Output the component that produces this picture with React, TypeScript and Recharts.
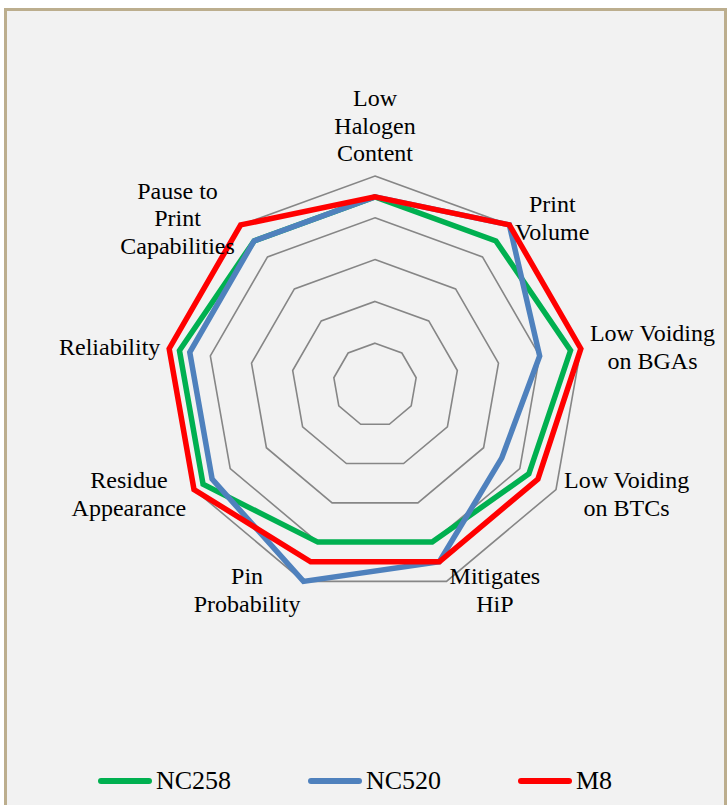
import React from "react";
import {
  RadarChart,
  Radar,
  PolarGrid,
  PolarAngleAxis,
  PolarRadiusAxis,
  Legend,
} from "recharts";

const categorias = [
  "Low\nHalogen\nContent",
  "Print\nVolume",
  "Low Voiding\non BGAs",
  "Low Voiding\non BTCs",
  "Mitigates\nHiP",
  "Pin\nProbability",
  "Residue\nAppearance",
  "Reliability",
  "Pause to\nPrint\nCapabilities",
];

const nc258 = [9, 9, 9.5, 8.5, 8, 8, 9.5, 9.5, 9];
const nc520 = [9, 10, 8, 7, 9, 10, 9, 9, 9];
const m8 = [9, 10, 10, 9, 9, 9, 10, 10, 10];

const SERIES = [
  { key: "nc258", name: "NC258", color: "#00b050" },
  { key: "nc520", name: "NC520", color: "#4f81bd" },
  { key: "m8", name: "M8", color: "#ff0000" },
];

const dados = categorias.map((c, i) => ({
  subject: c,
  nc258: nc258[i],
  nc520: nc520[i],
  m8: m8[i],
}));

const FONTE = '"Liberation Serif", "Times New Roman", serif';
const TAM_LABEL = 24;
const ALTURA_LINHA = 27.5;

let ctx: CanvasRenderingContext2D | null = null;
function medir(texto: string) {
  if (!ctx) ctx = document.createElement("canvas").getContext("2d");
  if (!ctx) return texto.length * 11;
  ctx.font = `${TAM_LABEL}px "Liberation Serif"`;
  return ctx.measureText(texto).width;
}

function RotuloEixo(props: any) {
  const { x, y, cx, cy, payload } = props;
  const linhas: string[] = String(payload.value).split("\n");
  const dx = x - cx;
  const dy = y - cy;
  const len = Math.sqrt(dx * dx + dy * dy) || 1;
  const ux = dx / len;
  const larg = Math.max(...linhas.map(medir));
  const alt = linhas.length * ALTURA_LINHA;

  let centroX = x;
  let topo = y - alt / 2;
  if (Math.abs(ux) < 0.1) {
    topo = dy < 0 ? y - alt : y;
  } else if (ux > 0) {
    centroX = x + larg / 2;
  } else {
    centroX = x - larg / 2;
  }

  return (
    <g>
      {linhas.map((l, i) => (
        <text
          key={i}
          x={centroX}
          y={topo + ALTURA_LINHA * (i + 0.5)}
          textAnchor="middle"
          dominantBaseline="central"
          fontFamily={FONTE}
          fontSize={TAM_LABEL}
          fill="#000"
        >
          {l}
        </text>
      ))}
    </g>
  );
}

function Legenda() {
  return (
    <div
      style={{
        display: "flex",
        paddingLeft: 98,
        fontFamily: FONTE,
        fontSize: 26,
        color: "#000",
      }}
    >
      {SERIES.map((s) => (
        <div
          key={s.key}
          style={{ width: 226, display: "flex", alignItems: "center" }}
        >
          <div
            style={{
              width: 54,
              height: 6,
              borderRadius: 3,
              background: s.color,
              marginRight: 4,
            }}
          />
          <span>{s.name}</span>
        </div>
      ))}
    </div>
  );
}

export default function App() {
  return (
    <div
      style={{
        position: "absolute",
        left: 0,
        top: 0,
        width: 728,
        height: 805,
        overflow: "hidden",
        background: "#fff",
      }}
    >
      <div
        style={{
          position: "absolute",
          left: 4,
          top: 8,
          width: 717,
          height: 820,
          border: "3px solid #bcae8e",
          background: "#f2f2f2",
        }}
      />
      <div style={{ position: "absolute", left: 0, top: 0 }}>
        <RadarChart
          width={728}
          height={805}
          data={dados}
          cx={375}
          cy={385}
          outerRadius={209}
          margin={{ top: 0, right: 0, bottom: 0, left: 0 }}
        >
          <PolarGrid
            gridType="polygon"
            radialLines={false}
            stroke="#868686"
            strokeWidth={1.6}
          />
          <PolarRadiusAxis
            domain={[0, 10]}
            tickCount={6}
            tick={false}
            axisLine={false}
          />
          <PolarAngleAxis
            dataKey="subject"
            tick={<RotuloEixo />}
            tickLine={false}
            axisLine={false}
            tickSize={9}
          />
          {SERIES.map((s) => (
            <Radar
              key={s.key}
              name={s.name}
              dataKey={s.key}
              stroke={s.color}
              strokeWidth={5.5}
              fill="none"
              fillOpacity={0}
              dot={false}
              isAnimationActive={false}
            />
          ))}
          <Legend
            content={() => <Legenda />}
            wrapperStyle={{ position: "absolute", left: 0, top: 766, width: 728 }}
          />
        </RadarChart>
      </div>
    </div>
  );
}
